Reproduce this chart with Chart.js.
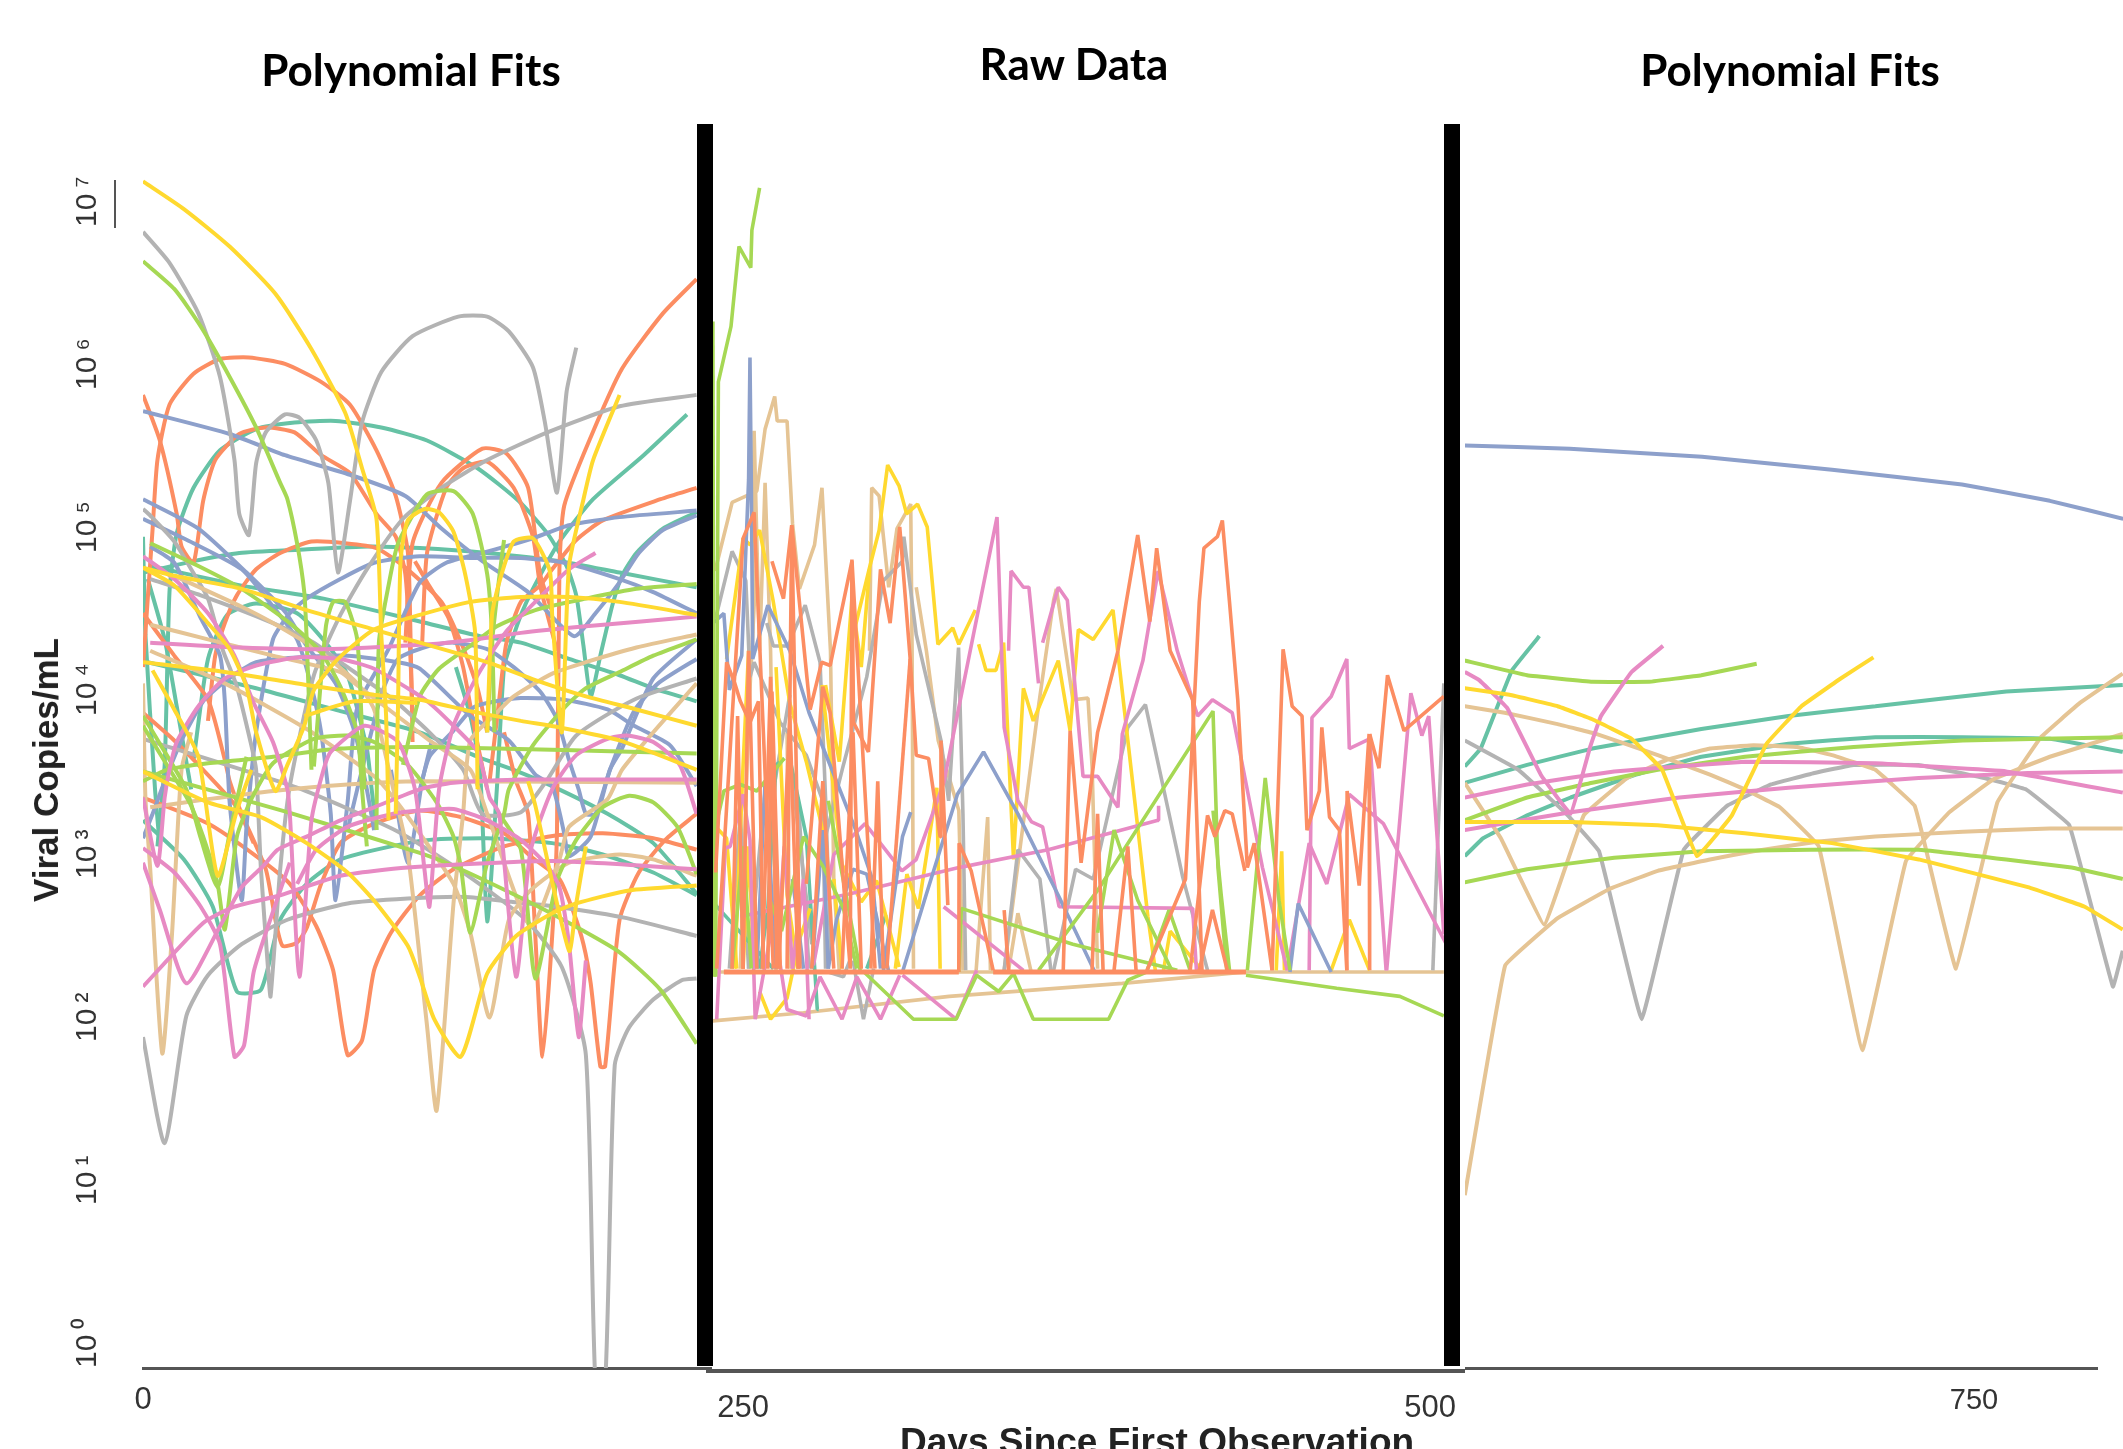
<!DOCTYPE html>
<html>
<head>
<meta charset="utf-8">
<title>Viral Copies/mL</title>
<script src="https://cdn.jsdelivr.net/npm/chart.js@4"></script>
<style>
  html, body { margin: 0; width: 2123px; height: 1449px; overflow: hidden; background: #fff; }
  canvas { position: absolute; top: 0; }
  .title { position: absolute; transform: translateX(-50%); font: bold 44px Lato, sans-serif; color: #000; white-space: nowrap; }
  .xtitle { position: absolute; left: 900px; top: 1421px; font: bold 37px "Liberation Sans", sans-serif; color: #222; white-space: nowrap; }
  .ytitle { position: absolute; left: 46px; top: 770px; transform: translate(-50%, -50%) rotate(-90deg); font: bold 35px "Liberation Sans", sans-serif; color: #222; white-space: nowrap; }
  .bar { position: absolute; top: 124px; height: 1242px; background: #000; }
  .rule { position: absolute; background: #555; }
</style>
</head>
<body>
<canvas id="leftChart" width="712" height="1449" style="left:0"></canvas>
<canvas id="midChart" width="759" height="1449" style="left:706px"></canvas>
<canvas id="rightChart" width="658" height="1449" style="left:1465px"></canvas>

<div class="title" style="left:411px;top:43px">Polynomial Fits</div>
<div class="title" style="left:1074px;top:37px">Raw Data</div>
<div class="title" style="left:1790px;top:43px">Polynomial Fits</div>
<div class="xtitle">Days Since First Observation</div>
<div class="ytitle">Viral Copies/mL</div>
<div class="bar" style="left:697px;width:16px"></div>
<div class="bar" style="left:1444px;width:16px"></div>
<div class="rule" style="left:114px;top:180px;width:2px;height:48px"></div>
<div class="rule" style="left:1465px;top:1367px;width:633px;height:3px"></div>

<script>
// every series is a flat list: day, log10(copies/mL), day, log10(copies/mL) ...
const COLORS = {
  teal: "#66c2a5", orange: "#fc8d62", blue: "#8da0cb", pink: "#e78ac3",
  green: "#a6d854", yellow: "#ffd92f", tan: "#e5c494", gray: "#b3b3b3"
};

const yTickExponents = [0, 1, 2, 3, 4, 5, 6, 7];
const leftTicks = [0];
const midTicks = [250, 500];
const rightTicks = [750];

// ===============================
// LEFT PANEL - polynomial fits
// ===============================
const leftYellow = [
  [0,7.28, 17,7.11, 36,6.88, 55,6.59, 70,6.25, 84,5.86, 91,5.52, 97,5.21, 99,4.5, 101,4, 102,3.36],
  [0,4.91, 13,4.86, 41,4.78, 68,4.65, 96,4.53, 115,4.45, 143,4.33, 163,4.22, 184,4.12, 205,4.04, 230,3.94],
  [0,4.91, 13,4.8, 27,4.57, 36,4.41, 43,4.18, 47,3.9, 55,3.54, 60,3.7, 67,3.94, 71,4.16, 81,4.35, 96,4.53, 115,4.62, 136,4.7, 157,4.73, 177,4.73, 198,4.7, 230,4.62],
  [0,4.33, 34,4.27, 68,4.19, 96,4.13, 115,4.1, 136,4.03, 157,3.97, 173,3.93, 198,3.85, 230,3.67],
  [0,3.66, 27,3.47, 49,3.38, 68,3.22, 85,3.04, 97,2.85, 110,2.59, 115,2.4, 121,2.14, 132,1.91, 143,2.42, 155,2.65, 170,2.79, 180,2.85, 202,2.93, 230,2.96],
  [105,3.4, 106,4.1, 107,4.95, 110,5.2, 117,5.27, 123,5.25, 129,5.13, 134,4.86, 138,4.51, 139,3.55],
  [143,3.9, 145,4.62, 148,4.82, 154,5.07, 162,5.09, 169,4.89, 170,4.62, 174,3.9, 177,4.92, 183,5.33, 187,5.57, 198,5.97],
  [160,3.6, 163,3.45, 177,2.56, 180,2.85, 184,3.2],
  [4,4.28, 13,4.04, 23,3.75, 31,3.02, 39,3.42, 45,3.67],
  [67,4, 88,4.09, 114,4.08]
];
const leftPink = [
  [0,4.98, 13,4.84, 27,4.63, 38,4.37, 46,4.08, 54,3.84, 60,3.55, 61,3.4, 65,2.4, 70,3.36, 75,3.67, 78,3.78, 92,3.94, 106,3.84, 113,3.55, 117,3.05, 119,2.83, 123,3.55, 129,3.94, 139,4.25, 151,4.52, 163,4.7, 177,4.9, 188,5],
  [3,4.45, 41,4.42, 75,4.41, 119,4.44, 133,4.46, 157,4.51, 184,4.55, 230,4.61],
  [0,3.5, 6,3.08, 9,3.5, 11,3.67, 14,3.84, 23,4.06, 34,4.23, 47,4.31, 65,4.36, 82,4.35, 96,4.29, 110,4.17, 119,4.08, 129,3.94, 139,3.78, 144,3.5, 148,3.4, 155,2.4, 161,3.17, 170,3.55, 180,3.76, 193,3.86, 201,3.88, 212,3.84, 223,3.7, 230,3.4],
  [0,3.19, 13,3.04, 24,2.83, 32,2.6, 38,1.91, 42,1.98, 46,2.43, 54,2.8, 61,3.1],
  [0,2.34, 25,2.73, 38,2.83, 57,2.9, 82,3.02, 110,3.07, 170,3.11, 230,3.06],
  [0,3.1, 7,2.81, 18,2.36, 32,2.71, 41,2.95, 50,3.08, 56,3.18, 68,3.26, 82,3.36, 96,3.44, 115,3.55, 129,3.59, 157,3.61, 230,3.61],
  [64,2.97, 72,3.18, 85,3.32, 104,3.4, 115,3.42, 129,3.43, 143,3.36, 157,3.24, 168,3.08, 173,2.95, 177,2.6, 181,2.03, 184,2.5]
];
const leftGreen = [
  [0,6.79, 13,6.62, 24,6.39, 36,6.08, 47,5.77, 57,5.43, 60,5.33, 64,5.06, 67,4.76, 68,4.47, 70,3.67],
  [0,3.94, 7,3.77, 17,3.53, 20,3.45, 25,3.26, 31,2.97, 34,2.69, 39,3.26, 45,3.49, 54,3.71, 71,3.86, 85,3.88, 96,3.84, 110,3.7, 122,3.47, 129,3.26, 132,3.08, 136,2.67, 143,3.1, 150,3.4, 152,3.55, 162,3.82, 175,4.05, 184,4.17, 198,4.27, 212,4.37, 230,4.47],
  [0,4, 7,3.83, 18,3.55, 24,3.25, 31,2.95, 36,3.28, 43,3.75],
  [0,3.6, 10,3.67, 27,3.71, 54,3.75, 82,3.8, 119,3.81, 230,3.77],
  [0,3.66, 60,3.41, 115,3.16, 129,3.08, 159,2.87, 177,2.73, 198,2.55, 215,2.32, 230,1.99],
  [3,5.06, 23,4.92, 41,4.78, 61,4.57, 74,4.39, 82,4.18, 89,3.9, 91,3.55, 93,3.2],
  [97,3.3, 98,4.45, 102,4.8, 106,5.06, 118,5.36, 129,5.38, 137,5.24, 143,4.87, 145,4.5, 146,3.9],
  [108,3.7, 115,4.12, 123,4.29, 136,4.43, 147,4.55, 163,4.65, 184,4.72, 205,4.78, 230,4.81],
  [148,3.4, 157,3.18, 163,2.39, 172,2.99, 180,3.24, 191,3.44, 202,3.51, 212,3.47, 222,3.32, 230,3.03],
  [143,3.9, 145,4.45, 148,4.85, 150,5.08],
  [71,3.69, 76,4.55, 79,4.7, 84,4.7, 89,4.47, 91,3.9, 92,3.55]
];
const leftTan = [
  [3,4.56, 27,4.47, 54,4.37, 82,4.27, 88,4.2, 119,3.85, 136,3.67, 143,3.4, 161,2.71, 173,3.12, 177,3.32, 193,3.49, 199,3.67, 212,3.9, 230,4.2],
  [13,4.86, 41,4.67, 54,4.57, 74,4.39, 89,4.2, 96,4.04, 104,3.55, 110,3.16, 118,2.1, 122,1.58, 129,2.85, 133,3.4, 136,3.85, 147,4.02, 154,4.12, 170,4.26, 184,4.33, 205,4.42, 230,4.5],
  [0,4.2, 1,3.5, 3,3.06, 8,1.93, 12,2.65, 16,3.67, 20,3.9],
  [3,3.44, 27,3.49, 54,3.54, 85,3.58, 115,3.6, 230,3.59],
  [3,4.4, 34,4.2, 68,3.92, 96,3.63, 104,3.5, 115,3.28, 129,2.97, 136,2.67, 144,2.15, 152,2.75, 161,2.93, 177,3.1, 198,3.15, 212,3.12, 230,3.02]
];
const leftGray = [
  [0,6.97, 11,6.78, 23,6.47, 32,6.08, 38,5.57, 40,5.24, 44,5.11, 47,5.55, 51,5.74, 59,5.85, 65,5.83, 72,5.69, 77,5.43, 81,4.88, 86,5.32, 91,5.8, 99,6.11, 112,6.33, 131,6.45, 143,6.45, 152,6.36, 162,6.14, 167,5.8, 172,5.37, 176,5.99, 180,6.26],
  [0,5.27, 3,5.23, 13,5.07, 20,4.9, 27,4.72, 33,4.41, 39,4.18, 45,3.82, 47,3.67, 49,3.06, 52,2.44, 53,2.28, 57,3.06, 61,3.57, 71,4.25, 82,4.62, 93,4.9, 108,5.21, 124,5.4, 143,5.57, 168,5.74, 198,5.9, 230,5.97],
  [0,2.03, 9,1.38, 18,2.16, 27,2.41, 41,2.6, 60,2.75, 85,2.85, 110,2.88, 134,2.89, 153,2.86, 172,2.83, 201,2.76, 230,2.65],
  [0,3.86, 64,3.56, 106,3.29, 134,3.03, 159,2.75, 174,2.46, 184,1.92, 188,-0.1, 192,-0.1, 196,1.86, 202,2.09, 212,2.26, 224,2.38, 230,2.39],
  [3,4.84, 24,4.74, 54,4.57, 71,4.45, 82,4.33, 104,4.1, 119,3.9, 133,3.67, 141,3.4, 157,3.41, 168,3.61, 180,3.88, 204,4.1, 230,4.23]
];
const leftBlue = [
  [0,5.87, 36,5.73, 59,5.6, 86,5.48, 109,5.35, 124,5.15, 141,4.95, 160,4.76, 179,4.49, 188,4.63, 198,4.82, 206,5, 216,5.14, 230,5.23],
  [0,5.33, 23,5.15, 43,4.88, 59,4.64, 68,4.43, 80,4.2, 88,3.9, 93,3.55, 96,3.3],
  [0,5.21, 21,5.06, 41,4.9, 53,4.69, 64,4.47, 70,4.18, 74,3.9, 78,3.4, 80,2.87, 85,3.47, 89,4.05, 102,4.41, 115,4.82, 126,4.94, 141,5, 162,5.09, 177,5.17, 198,5.22, 230,5.26],
  [3,5.04, 13,4.94, 24,4.6, 32,4.37, 34,4.09, 36,3.47, 41,2.87, 43,3.32, 47,3.9, 54,4.47, 61,4.63, 68,4.72, 82,4.84, 96,4.94, 115,4.98, 136,4.97, 157,4.97, 175,4.94, 198,4.84, 212,4.76, 230,4.63],
  [0,3.25, 4,3.4, 9,3.6, 16,3.85, 25,4.09, 34,4.21, 47,4.33, 65,4.36, 85,4.37, 106,4.33, 115,4.29, 136,4, 152,3.85, 163,3.64, 170,3.57, 175,3.28, 177,3.14, 186,3.26, 194,3.67, 199,3.8, 212,4.23, 230,4.47],
  [115,3.55, 119,3.75, 129,3.91, 137,4.05, 143,4.08, 157,4.11, 175,4.1, 193,4.04, 204,3.94, 219,3.82, 230,3.57],
  [85,3.3, 89,3.55, 99,4.13, 106,4.35, 119,4.43, 129,4.45, 143,4.41, 154,4.3, 165,4.15, 172,3.98, 177,3.73, 181,3.55, 184,3.4, 188,3.4, 194,3.67, 204,4.03, 214,4.2, 230,4.35],
  [103,3.67, 110,3.1, 116,3.6, 120,3.85]
];
const leftOrange = [
  [0,4.3, 4,5.15, 6,5.57, 11,5.91, 21,6.1, 32,6.19, 44,6.2, 59,6.16, 74,6.05, 86,5.91, 97,5.63, 105,5.35, 110,5.01, 111,4.59, 112,3.84],
  [0,5.97, 7,5.69, 14,5.24, 16,5.04, 21,4.94, 25,5.32, 30,5.57, 40,5.73, 51,5.77, 63,5.74, 74,5.6, 86,5.49, 97,5.24, 105,5.1, 109,4.87, 111,4.4, 112,4],
  [27,3.97, 30,4.37, 34,4.57, 39,4.74, 47,4.9, 57,5, 70,5.07, 84,5.06, 97,5.03, 109,4.91, 124,4.7, 133,4.42, 139,4.17, 143,3.9],
  [150,3.9, 155,3.6, 160,3.4, 163,2.65, 166,1.91, 170,2.65, 172,3.3, 173,4.9, 175,5.29, 186,5.71, 199,6.13, 216,6.47, 230,6.68],
  [144,3.6, 148,4.1, 151,4.45, 157,4.7, 165,4.8, 170,4.9, 180,5.08, 191,5.2, 215,5.33, 230,5.4],
  [109,4.45, 112,5.06, 124,5.43, 141,5.64, 151,5.61, 160,5.4, 165,4.87, 170,4.64],
  [116,4.45, 118,5, 126,5.4, 133,5.52, 143,5.56, 154,5.4, 162,5.1, 165,4.8, 172,4.4],
  [0,4.63, 13,4.37, 27,4.1, 34,3.73, 36,3.6, 41,3.4, 51,3.06, 55,2.75, 58,2.59, 64,2.61, 68,2.7, 74,2.97, 82,3.22, 93,3.32, 104,3.38, 115,3.42, 132,3.38, 150,3.28, 161,3.14, 173,3, 179,2.79, 183,2.6, 186,2.36, 190,1.85, 192,1.85, 198,2.75, 206,3.04, 217,3.24, 230,3.4],
  [0,3.5, 27,3.34, 47,3.14, 61,2.97, 72,2.71, 79,2.44, 85,1.92, 91,2.01, 96,2.44, 103,2.67, 115,2.9, 129,3.06, 150,3.2, 173,3.27, 191,3.28, 212,3.25, 230,3.18],
  [113,4.95, 118,4.82, 127,4.6, 133,4.3, 138,3.9, 143,3.55],
  [0,4.02, 13,3.85, 25,3.67, 39,3.44, 46,3.22]
];
const leftTeal = [
  [6,3.2, 9,3.7, 11,4.76, 14,5.12, 21,5.4, 32,5.63, 47,5.76, 63,5.8, 80,5.81, 99,5.77, 118,5.69, 139,5.52, 156,5.32, 168,5.12, 176,4.92, 180,4.74, 183,4.43, 186,4.12, 190,4.37, 195,4.68, 199,4.86, 205,5, 216,5.15, 230,5.25],
  [0,4.88, 21,4.95, 40,5, 65,5.02, 94,5.04, 115,5.03, 143,5, 173,4.95, 198,4.88, 230,4.79],
  [3,4.92, 41,4.8, 75,4.72, 115,4.58, 140,4.49, 157,4.45, 177,4.35, 198,4.25, 212,4.17, 230,4.09],
  [130,4.3, 136,4, 140,3.67, 143,2.74, 147,3.55, 150,4.3, 153,4.45, 157,4.62, 162,4.78, 173,5.07, 187,5.33, 208,5.6, 226,5.85],
  [2,4.33, 47,4.17, 82,4.03, 115,3.9, 139,3.75, 154,3.67, 170,3.57, 193,3.4, 212,3.22, 230,2.91],
  [21,3.73, 27,4.35, 35,4.62, 47,4.69, 64,4.63, 77,4.43, 85,4.25, 93,3.8, 95,3.55, 97,3.3],
  [0,3.36, 17,3.12, 29,2.83, 39,2.31, 49,2.32, 57,2.75, 68,2.97, 82,3.12, 103,3.2, 119,3.24, 143,3.25, 170,3.22, 191,3.15, 212,3.04, 230,2.9],
  [0,5.1, 1,4.5, 5,3.55, 7,3.2],
  [2,4.84, 9,4.47, 14,4.06, 20,3.55]
];

// ===============================
// MIDDLE PANEL - raw data
// ===============================
const midFloor = [
  [243,2.43, 328.5,2.43],
  [341,2.43, 433,2.43]
];
const midOrange = [
  [397,2.44, 411,3, 416,4.7, 417.7,5.03, 422.6,5.1, 424.4,5.2, 427,4.7, 430,4.1, 433.5,3.07, 436,3.22, 442.5,2.44],
  [386.4,4.4, 393.6,5.11, 398,4.58, 400.5,5.03, 405.4,4.4, 413.6,4.1, 417,2.44],
  [366.5,2.44, 369,3.91, 373,3.1, 379,3.9, 386.4,4.4],
  [442.5,2.44, 446.5,4.41, 449.8,4.06, 453.4,4, 455.2,3.3, 459.7,3.54, 460.6,3.93, 463.4,3.38, 467,3.3, 469.7,2.44],
  [469.7,2.44, 469.8,3.54, 474.2,2.96, 477.8,3.89, 478,2.44],
  [478,3.89, 481.4,3.68, 484.5,4.25, 490.5,3.91, 505,4.12],
  [412.7,2.44, 419,3.39, 421.7,3.26, 425.3,3.42, 428,3.4, 432.6,3.05],
  [416,2.44, 420.8,2.81, 426.2,2.44],
  [260.5,4.95, 264.7,4.72, 267.7,5.17, 274.4,4.04, 278.6,4.33, 281.7,4.31, 289.6,4.95, 290.2,3.96, 295.6,3.78, 300,4.9, 303.5,4.57, 307,5.16, 310.8,4.35, 313,3.76, 317.5,3.74, 321.7,3.26, 322,3.85, 324.5,2.84],
  [240,3.04, 244,4.33, 247,4.2, 249,4.09, 252.5,3.96, 255.6,4.09, 257.4,2.45],
  [240.4,2.45, 250,5.09, 254,5.25, 261,2.45],
  [257,2.45, 260,4.24, 262.3,2.45],
  [259,2.45, 260.5,4.15, 263.5,2.45],
  [266,2.45, 267.7,5.17, 270.7,2.45],
  [273,2.97, 279,4.18, 281.7,4.02, 289,2.45, 289.6,4.96, 296,3.04, 298,2.45],
  [302.3,2.45, 310.8,4.35],
  [328.5,2.43, 328.6,3.22, 333,3.05, 341,2.44],
  [345,2.81, 346.6,2.44],
  [263,2.45, 267,4, 270,2.45],
  [275,2.45, 279,3.6, 283,2.45],
  [286,2.45, 290,3.9, 293,2.45],
  [296.5,2.45, 299,3.6, 301,2.45],
  [246,2.45, 248,4, 250,2.45],
  [250,2.45, 252,4.4, 255,2.45],
  [377,2.44, 379,3.4, 381,2.44],
  [385,2.44, 390,3.2, 393,2.44]
];
const midGreen = [
  [240,2.4, 241,6.05, 245.6,6.39, 248.5,6.88, 252.8,6.75, 253.2,6.98, 256,7.24],
  [239,6.42, 239.5,2.4],
  [433,2.41, 466,2.33, 489,2.28, 505,2.16],
  [328.5,2.43, 329.4,2.82, 370,2.6, 408,2.44],
  [294,2.43, 312,2.14, 327.5,2.14, 335,2.41, 343,2.31, 348.4,2.42, 355.6,2.14, 383,2.14, 390,2.38, 397,2.43],
  [357.5,2.44, 379,2.93, 421,4.03, 422.8,3.07, 426,2.44],
  [379,2.67, 385,3.3, 393.6,2.87, 406,2.44],
  [433.5,2.44, 440,3.62, 445,2.87, 449,2.44],
  [397,2.44, 405,2.81, 412.7,2.44],
  [421,3.42, 424,2.9, 427,2.44],
  [240,3.32, 243,3.54, 249,3.58, 255,3.54, 265,3.74],
  [260,2.86, 264,2.68, 272,3.26, 279,3.08, 286.5,2.82, 291.4,2.45],
  [281,3.48, 292.6,2.44],
  [246,2.45, 250,3.2, 253,2.45]
];
const midBlue = [
  [239,4.57, 243,4.63, 245,4.16, 249.5,4.37, 252,5.45, 252.5,6.2, 253,5.4, 253.5,4.35, 259,4.68, 267,4.4, 274,4.02, 284,3.6, 291,3.3, 297,3, 300,2.45],
  [301,2.43, 308,3.26, 311,3.41],
  [308,2.43, 316,2.87, 328,3.52, 337.5,3.78, 350,3.4, 365,2.89, 378,2.43],
  [449,2.43, 452,2.85, 464,2.43],
  [281,2.45, 284,2.75, 290,3.06, 295,3.03, 297.5,2.85, 303,2.43],
  [255,2.45, 258,3.6, 262,2.45],
  [268,3, 272,2.45],
  [275,2.45, 279,3.3, 281,2.45]
];
const midPink = [
  [249,2.77, 289,2.91, 328.5,3.07, 361,3.18, 401,3.36, 401.2,3.45],
  [275.6,2.47, 283,3.15, 294.4,3.34, 307.8,3.05, 313,3.12, 323,3.59, 342.4,5.22, 345,3.93, 350,3.48, 355,3.35, 359,3.32, 365,2.83, 413.6,2.82, 415,2.43],
  [346.6,4.4, 347.5,4.89, 352,4.79, 354,4.79, 357.5,4.2],
  [359,4.45, 364.7,4.79, 368,4.71, 373.7,3.63, 379,3.63, 386.4,3.44, 388,3.89, 395.5,4.34, 401,4.89, 403.6,4.71, 408,4.4, 415.4,4, 420.8,4.1, 428,4.02, 439,3.07, 448,2.44],
  [448,2.44, 456,3.22, 462.4,2.97, 470.6,3.52, 483,3.34, 505.9,2.6],
  [456,2.44, 457,3.99, 464,4.12, 469.7,4.35, 470.6,3.8, 478,3.86, 484,2.44],
  [484.2,2.44, 493,4.14, 497,3.88, 499.5,4, 505,2.66],
  [323,2.83, 352,2.44],
  [308,2.41, 327.5,2.14, 335,2.44],
  [240.4,2.14, 243.5,3.19, 245.3,3.2, 250,3.52, 252.5,3.24, 254.4,2.14, 261,2.75, 266,2.2, 273,2.16, 278,2.4, 286,2.14, 291.4,2.4, 300,2.14, 307,2.41],
  [262,2.45, 265,3.2, 268,2.45],
  [268,2.45, 272,3, 274,2.14]
];
const midYellow = [
  [288.7,4.4, 296,4.91, 299.5,5.14, 302.6,5.54, 306.8,5.41, 309.5,5.24, 313.5,5.3, 317,5.16, 320.9,4.44, 326.3,4.54, 328.5,4.44, 334.5,4.65],
  [335.7,4.44, 338.4,4.28, 342,4.28, 344.8,4.45, 348.4,3.12, 352,4.17, 355.6,3.97, 364.7,4.34, 369,3.91, 372,4.53, 377.4,4.47, 384.6,4.65, 389,4, 397.3,2.77, 400,2.44],
  [403,2.44, 405.4,2.68, 417,2.44],
  [444,2.44, 446,3.17, 447,2.44],
  [464,2.44, 470.6,2.75, 478,2.44],
  [278.7,4.19, 286,3.09, 293,2.86, 298.6,2.99, 306.8,2.46],
  [244,4.35, 250,5.09, 252.6,5.05, 256,5.14, 261,4.7, 267,4.08, 273,3.72, 279,3.3, 281,2.9],
  [280,4.19, 285,3.72, 289.6,4.72, 293,4.3, 296,4.9],
  [305.4,2.45, 309.6,3.03, 313.8,2.82, 320.5,3.56, 321.7,2.45],
  [256,2.31, 260,2.14, 266,2.27, 270.7,2.64, 274.4,2.82],
  [240,3.32, 244,3.25, 247.7,2.45],
  [260.5,3.6, 263.5,2.45],
  [250,2.45, 252,3.2, 254,2.45],
  [247,2.45, 250,3.7, 252,4.4],
  [262,4.3, 266,2.9, 270,2.45],
  [283,3, 286,2.45]
];
const midTeal = [
  [267,3.74, 273,3.26, 277,2.2, 277.5,2.2],
  [240,2.84, 261,2.45],
  [295,2.45, 302,2.78],
  [256,2.45, 259,2.82, 262,3.7, 265,3.74]
];
const midGray = [
  [240,4.6, 246,5.01, 251,4.83, 252.5,4.24, 254,4.33, 263.5,3.96, 273,3.76, 279,3.48, 280,2.45],
  [258.6,4.57, 261,4.43, 266.5,4.43, 268,4.5, 272.6,4.68, 278,4.33, 280,3.5, 282,2.5],
  [280,3.26, 286.5,3.7, 295,4.24, 301,4.83, 308,4.95, 308.5,5.1, 313,4.5, 322,3.85, 324.8,3.48, 328.4,4.42, 330,3.4, 331,2.44],
  [345,2.44, 350,3.18, 358,3, 362,2.44],
  [363,2.44, 371,3.06, 377.4,3, 390,3.93, 396.4,4.07, 410,3.01, 419,2.44],
  [501,2.44, 505,4.2],
  [290,2.5, 293.8,2.14, 297.5,2.45],
  [252,2.45, 258.6,3.65, 261.6,3.6, 267,4.13],
  [268,3.6, 275,2.6],
  [281,2.43, 286.5,2.4, 290,2.55],
  [245,2.45, 249,3.4, 252,2.45],
  [270,3.5, 274,2.45]
];
const midTan = [
  [239,2.43, 505,2.43],
  [239,2.13, 272,2.18, 325,2.28, 388,2.36, 433,2.43],
  [239.8,4.89, 246,5.31, 255,5.38, 258,5.76, 261.5,5.96, 262.4,5.81, 266,5.81, 268,5.18, 270.5,4.78, 276,5.05, 278.7,5.4, 281.8,4.4, 283,3, 285,2.43],
  [253.4,4.4, 254,5.75, 256,4.4, 258,5.43, 260,4.4, 262,2.43],
  [296,4.4, 296.8,5.4, 299.5,5.35, 303,4.79, 306,5.15, 311,5.3, 311.5,4.4, 312,2.45],
  [313,4.79, 316.7,4.4, 321,3.85, 328.5,3.42, 330,2.44],
  [345,2.44, 357.5,4.06, 363,4.71, 364,4.78, 367.4,4.4, 370,4.1, 375.5,4.11, 377,3.69, 379,2.45],
  [334.8,2.44, 339,3.38, 340,2.44],
  [346.6,2.44, 350,2.79, 354.7,2.44],
  [266,3.9, 267,2.45],
  [249,2.45, 252,4, 255,5]
];

// ===============================
// RIGHT PANEL - polynomial fits
// ===============================
const rightBlue = [
  [538.4,5.66, 582,5.64, 637,5.59, 691,5.51, 745,5.42, 781.5,5.32, 812,5.21]
];
const rightTeal = [
  [538.4,3.69, 545,3.8, 558,4.28, 569.4,4.49],
  [538.4,3.59, 564.3,3.7, 591.4,3.8, 636.7,3.92, 672.9,4, 709,4.06, 763.4,4.15, 811.8,4.19],
  [538.4,3.14, 546,3.25, 564.3,3.39, 582.4,3.5, 609.5,3.64, 636.7,3.75, 672.9,3.83, 709,3.87, 745.3,3.87, 781.5,3.86, 811.8,3.78]
];
const rightPink = [
  [538.4,4.27, 544.4,4.22, 556,4.05, 570,3.64, 582.4,3.4, 590.5,3.81, 595,4, 607.7,4.27, 620.8,4.43],
  [538.4,3.5, 564.3,3.58, 600.5,3.66, 654.8,3.72, 709,3.71, 763.4,3.66, 811.8,3.53],
  [538.4,3.3, 582.4,3.41, 627.6,3.5, 672.9,3.56, 727,3.62, 772.4,3.65, 811.8,3.66]
];
const rightGreen = [
  [538.4,4.34, 564.3,4.25, 591.4,4.21, 615,4.21, 636.7,4.25, 659.7,4.32],
  [538.4,3.36, 564.3,3.5, 591.4,3.59, 618.6,3.67, 654.8,3.75, 700,3.81, 745.3,3.85, 811.8,3.87],
  [538.4,2.98, 564.3,3.06, 600.5,3.13, 636.7,3.17, 682,3.18, 727,3.18, 763.4,3.12, 790.5,3.07, 811.8,3]
];
const rightYellow = [
  [538.4,4.17, 557,4.13, 577,4.06, 591.4,3.98, 607.7,3.86, 620.4,3.67, 634.9,3.14, 649.4,3.39, 663.8,3.83, 678.3,4.06, 694.6,4.23, 708.2,4.36],
  [538.4,3.35, 582.4,3.35, 618.6,3.33, 654.8,3.28, 691,3.22, 727,3.12, 772.4,2.95, 796,2.83, 811.8,2.69]
];
const rightTan = [
  [538.4,4.06, 555,4.02, 577,3.95, 593,3.89, 618.6,3.76, 640.3,3.64, 654.8,3.55, 669.3,3.44, 685.5,3.2, 703.6,1.95, 721.7,3.11, 739.8,3.41, 757.9,3.61, 781.5,3.75, 811.8,3.89],
  [538.4,3.59, 553.4,3.25, 571.5,2.72, 587.8,3.39, 606,3.62, 622.2,3.73, 640.3,3.8, 658.4,3.82, 676.5,3.81, 691,3.76, 709,3.67, 725.3,3.45, 729.9,3.19, 742.5,2.45, 759.7,3.47, 777.8,3.87, 794,4.08, 811.8,4.26],
  [538.4,1.06, 555.2,2.47, 577,2.76, 598.7,2.94, 618.6,3.05, 640.3,3.12, 658.4,3.17, 685.5,3.23, 709,3.26, 745.3,3.29, 781.5,3.31, 811.8,3.31]
];
const rightGray = [
  [538.4,3.85, 560.7,3.67, 580.6,3.4, 594.2,3.17, 611.9,2.14, 629.4,3.18, 647.5,3.45, 665.7,3.58, 683.7,3.65, 700,3.7, 727,3.7, 754.3,3.62, 771.5,3.55, 789.6,3.33, 807.7,2.34, 811.8,2.56]
];

// ===============================
// CHART BUILDING
// ===============================
const SUPERS = "⁰¹²³⁴⁵⁶⁷";

function toPoints(flat) {
  const pts = [];
  for (let i = 0; i < flat.length; i += 2) {
    pts.push({ x: flat[i], y: Math.pow(10, flat[i + 1]) });
  }
  return pts;
}

function lines(groups, tension, baseWidth) {
  const out = [];
  groups.forEach(([series, color, width]) => {
    series.forEach(flat => {
      out.push({
        data: toPoints(flat),
        borderColor: color,
        borderWidth: width || baseWidth,
        borderJoinStyle: "bevel",
        pointRadius: 0,
        tension: tension,
        fill: false
      });
    });
  });
  return out;
}

function makePanel(id, groups, cfg) {
  const yAxis = {
    type: "logarithmic",
    min: Math.pow(10, cfg.bottomExp),
    max: Math.pow(10, 7.595),
    display: cfg.showY,
    grid: { display: false },
    border: { display: false },
    afterBuildTicks: s => { s.ticks = yTickExponents.map(k => ({ value: Math.pow(10, k) })); },
    afterFit: s => { s.width = cfg.showY ? 143 : 0; },
    ticks: {
      autoSkip: false,
      minRotation: 90,
      maxRotation: 90,
      // mirror makes the labels read upward from their tick, and padding puts them left of the plot
      mirror: true,
      padding: -55,
      color: "#333",
      font: { family: "Liberation Sans", size: 30 },
      callback: v => "10\u2009" + SUPERS[Math.round(Math.log10(v))]
    }
  };
  const xAxis = {
    type: "linear",
    min: cfg.xMin,
    max: cfg.xMax,
    grid: { display: false, drawTicks: false },
    border: { display: cfg.border > 0, color: "#555", width: cfg.border },
    afterBuildTicks: s => { s.ticks = cfg.ticks.map(v => ({ value: v })); },
    afterFit: s => {
      s.height = 1449 - cfg.bottomPx;
      s.paddingLeft = 0;
      s.paddingRight = 0;
    },
    ticks: {
      autoSkip: false,
      maxRotation: 0,
      padding: cfg.tickPad,
      color: "#333",
      font: { family: "Liberation Sans", size: cfg.tickSize }
    }
  };
  return new Chart(document.getElementById(id), {
    type: "line",
    data: { datasets: lines(groups, cfg.tension, cfg.lineWidth) },
    options: {
      responsive: false,
      animation: false,
      devicePixelRatio: 1,
      layout: { padding: { top: 130, left: 0, right: 0, bottom: 0 } },
      plugins: { legend: { display: false }, title: { display: false }, tooltip: { enabled: false } },
      scales: { x: xAxis, y: yAxis }
    }
  });
}

// first group in the list ends up on top
makePanel("leftChart", [
  [leftYellow, COLORS.yellow], [leftPink, COLORS.pink], [leftGreen, COLORS.green], [leftTan, COLORS.tan],
  [leftGray, COLORS.gray], [leftBlue, COLORS.blue], [leftOrange, COLORS.orange], [leftTeal, COLORS.teal]
], { showY: true, tension: 0.2, lineWidth: 4, bottomExp: 0, bottomPx: 1368, xMin: 0, xMax: 236.4, ticks: leftTicks, tickPad: 14, tickSize: 31, border: 3 });

makePanel("midChart", [
  [midFloor, COLORS.orange, 5], [midOrange, COLORS.orange], [midGreen, COLORS.green], [midBlue, COLORS.blue],
  [midPink, COLORS.pink], [midYellow, COLORS.yellow], [midTeal, COLORS.teal], [midGray, COLORS.gray], [midTan, COLORS.tan]
], { showY: false, tension: 0, lineWidth: 3.6, bottomExp: -0.018, bottomPx: 1371, xMin: 236.5, xMax: 512.7, ticks: midTicks, tickPad: 19, tickSize: 31, border: 4 });

makePanel("rightChart", [
  [rightYellow, COLORS.yellow], [rightPink, COLORS.pink], [rightGreen, COLORS.green], [rightTan, COLORS.tan],
  [rightGray, COLORS.gray], [rightBlue, COLORS.blue], [rightTeal, COLORS.teal]
], { showY: false, tension: 0.06, lineWidth: 4, bottomExp: 0, bottomPx: 1368, xMin: 538.5, xMax: 811.9, ticks: rightTicks, tickPad: 16, tickSize: 29, border: 0 });
</script>
</body>
</html>
